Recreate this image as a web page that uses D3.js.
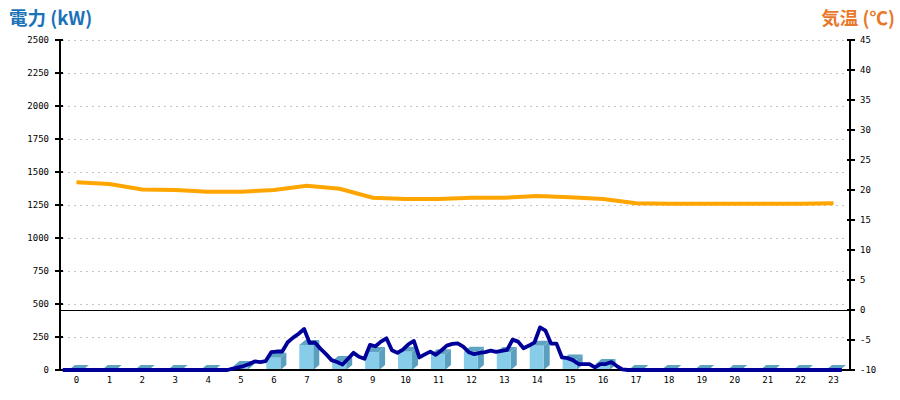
<!DOCTYPE html>
<html><head><meta charset="utf-8">
<script src="https://cdn.jsdelivr.net/npm/d3@7"></script>
<style>
html,body{margin:0;padding:0;background:#fff;}
svg{display:block;}
</style></head>
<body>
<svg id="chart" width="900" height="400"></svg>
<script>
// ---- data ----
const hours = ["0","1","2","3","4","5","6","7","8","9","10","11","12","13","14","15","16","17","18","19","20","21","22","23"];
const hourlyKw = [0,0,0,0,0,30,93,190,68,136,139,120,139,136,184,80,45,0,0,0,0,0,0,0];
const tempC = [21.3,21.0,20.1,20.0,19.7,19.7,20.0,20.7,20.2,18.7,18.5,18.5,18.7,18.7,19.0,18.8,18.5,17.8,17.7,17.7,17.7,17.7,17.7,17.8];
// power every 10 minutes (144 points)
const power10min = [
 0,0,0,0,0,0, 0,0,0,0,0,0, 0,0,0,0,0,0, 0,0,0,0,0,0, 0,0,0,0,0,0,
 0,10,20,30,45,65, 60,68,135,140,140,210, 245,275,311,205,207,160, 120,75,60,42,85,130,
 100,85,190,180,215,240, 150,130,155,195,220,95, 118,139,115,148,185,198, 202,177,135,120,130,136,
 147,138,145,152,230,215, 165,185,210,323,298,200, 200,95,90,75,45,45, 45,20,45,45,60,30,
 5,0,0,0,0,0, 0,0,0,0,0,0, 0,0,0,0,0,0, 0,0,0,0,0,0, 0,0,0,0,0,0, 0,0,0,0,0,0, 0,0,0,0,0
];
const leftTicks = [0,250,500,750,1000,1250,1500,1750,2000,2250,2500];
const rightTicks = [-10,-5,0,5,10,15,20,25,30,35,40,45];

// ---- layout ----
const svg = d3.select("#chart");
const X0 = 60, X1 = 850, YT = 40, YB = 370;
const x = d3.scaleBand().domain(hours).range([X0, X1]);
const xt = d3.scaleLinear().domain([0, 24]).range([X0, X1]);
const yL = d3.scaleLinear().domain([0, 2500]).range([YB, YT]);
const yR = d3.scaleLinear().domain([-10, 45]).range([YB, YT]);
const mono = "'DejaVu Sans Mono', monospace";

// gridlines
svg.append("g").selectAll("line").data(leftTicks.filter(d => d > 0)).join("line")
  .attr("x1", X0 + 2).attr("x2", X1 - 2)
  .attr("y1", d => yL(d)).attr("y2", d => yL(d))
  .attr("stroke", "#c4c4c4").attr("stroke-width", 1).attr("stroke-dasharray", "2,4")
  .attr("shape-rendering", "crispEdges");

// 3D bars
const bw = 14, dx = 6, dy = 5;
const bars = svg.append("g");
hours.forEach((h, i) => {
  const cx = x(h) + x.bandwidth() / 2;
  const left = cx - 7.6, right = left + bw;
  const top = yL(hourlyKw[i]), base = yL(0);
  bars.append("polygon")
    .attr("points", [[right, base], [right + dx, base - dy], [right + dx, top - dy], [right, top]].join(" "))
    .attr("fill", "#5a9fbd");
  bars.append("polygon")
    .attr("points", [[left, top], [right, top], [right + dx, top - dy], [left + dx, top - dy]].join(" "))
    .attr("fill", "#5fa3c2");
  if (hourlyKw[i] > 0) {
    bars.append("rect").attr("x", left).attr("y", top).attr("width", bw).attr("height", base - top)
      .attr("fill", "#87cdea");
  }
});

// temperature zero line
svg.append("line").attr("x1", X0).attr("x2", X1 + 5).attr("y1", yR(0)).attr("y2", yR(0))
  .attr("stroke", "#000").attr("stroke-width", 1).attr("shape-rendering", "crispEdges");

// axes lines
const ax = svg.append("g").attr("stroke", "#000").attr("stroke-width", 1.3).attr("shape-rendering", "crispEdges");
ax.append("line").attr("x1", X0).attr("x2", X0).attr("y1", YT).attr("y2", YB);
ax.append("line").attr("x1", X1).attr("x2", X1).attr("y1", YT).attr("y2", YB);
ax.append("line").attr("x1", X0).attr("x2", X1).attr("y1", YB).attr("y2", YB);
ax.selectAll(".lt").data(leftTicks).join("line").attr("class", "lt")
  .attr("x1", X0 - 5).attr("x2", X0 + 3).attr("y1", d => yL(d)).attr("y2", d => yL(d));
ax.selectAll(".rt").data(rightTicks).join("line").attr("class", "rt")
  .attr("x1", X1 - 3).attr("x2", X1 + 5).attr("y1", d => yR(d)).attr("y2", d => yR(d));

// tick labels
svg.append("g").selectAll("text").data(leftTicks).join("text")
  .attr("x", X0 - 11).attr("y", d => yL(d) + 3.3).attr("text-anchor", "end")
  .attr("font-family", mono).attr("font-size", 9).attr("fill", "#000").text(d => d);
svg.append("g").selectAll("text").data(rightTicks).join("text")
  .attr("x", X1 + 10).attr("y", d => yR(d) + 3.3).attr("text-anchor", "start")
  .attr("font-family", mono).attr("font-size", 9).attr("fill", "#000").text(d => d);
svg.append("g").selectAll("text").data(hours).join("text")
  .attr("x", d => x(d) + x.bandwidth() / 2).attr("y", 383).attr("text-anchor", "middle")
  .attr("font-family", mono).attr("font-size", 9).attr("fill", "#000").text(d => d);

// power line
const pLine = d3.line().x((d, i) => xt((i + 0.5) / 6)).y(d => yL(d));
svg.append("path").datum(power10min).attr("d", pLine)
  .attr("fill", "none").attr("stroke", "#000099").attr("stroke-width", 3.8).attr("stroke-linejoin", "round");

// temperature line
const tLine = d3.line().x((d, i) => x(hours[i]) + x.bandwidth() / 2).y(d => yR(d));
svg.append("path").datum(tempC).attr("d", tLine)
  .attr("fill", "none").attr("stroke", "#ffa500").attr("stroke-width", 4);

// titles
svg.append("text").attr("x", 9).attr("y", 25).attr("font-family", "'Noto Sans CJK JP', sans-serif")
  .attr("font-weight", "bold").attr("font-size", 18.5).attr("fill", "#1a72b8").text("電力 (kW)");
svg.append("text").attr("x", 895).attr("y", 25).attr("text-anchor", "end").attr("font-family", "'Noto Sans CJK JP', sans-serif")
  .attr("font-weight", "bold").attr("font-size", 18.5).attr("fill", "#e8782a").text("気温 (℃)");
</script>
</body></html>
